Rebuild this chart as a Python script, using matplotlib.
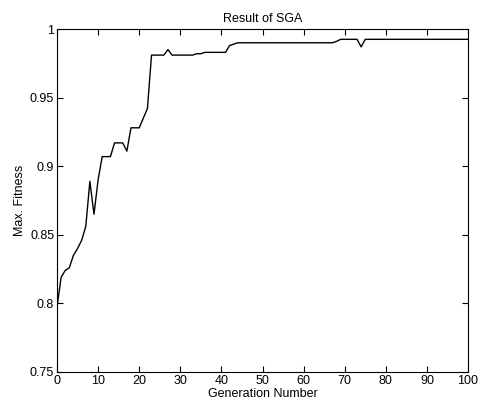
import matplotlib
matplotlib.use("Agg")
import matplotlib.pyplot as plt
import numpy as np

plt.rcParams['font.family'] = ['Liberation Sans', 'DejaVu Sans']

generations = np.arange(0, 101)
max_fitness = [
    0.797, 0.819, 0.824, 0.826, 0.835, 0.840, 0.846, 0.856, 0.889, 0.865,
    0.890, 0.907, 0.907, 0.907, 0.917, 0.917, 0.917, 0.911, 0.928, 0.928,
    0.928, 0.935, 0.942, 0.981, 0.981, 0.981, 0.981, 0.985, 0.981, 0.981,
    0.981, 0.981, 0.981, 0.981, 0.982, 0.982, 0.983, 0.983, 0.983, 0.983,
    0.983, 0.983, 0.988, 0.989, 0.990, 0.990, 0.990, 0.990, 0.990, 0.990,
    0.990, 0.990, 0.990, 0.990, 0.990, 0.990, 0.990, 0.990, 0.990, 0.990,
    0.990, 0.990, 0.990, 0.990, 0.990, 0.990, 0.990, 0.990, 0.991, 0.9925,
    0.9925, 0.9925, 0.9925, 0.9925, 0.987, 0.9925, 0.9925, 0.9925, 0.9925, 0.9925,
    0.9925, 0.9925, 0.9925, 0.9925, 0.9925, 0.9925, 0.9925, 0.9925, 0.9925, 0.9925,
    0.9925, 0.9925, 0.9925, 0.9925, 0.9925, 0.9925, 0.9925, 0.9925, 0.9925, 0.9925,
    0.9925,
]
xticks = [0, 10, 20, 30, 40, 50, 60, 70, 80, 90, 100]
yticks = [0.75, 0.8, 0.85, 0.9, 0.95, 1]
ytick_labels = ['0.75', '0.8', '0.85', '0.9', '0.95', '1']

fig = plt.figure(figsize=(4.85, 4.09), dpi=100)
ax = fig.add_axes([0.1175, 0.0905, 0.8475, 0.8385])
ax.plot(generations, max_fitness, color='black', linewidth=1.0)

ax.set_xlim(0, 100)
ax.set_ylim(0.75, 1)
ax.set_xticks(xticks)
ax.set_yticks(yticks)
ax.set_yticklabels(ytick_labels)
ax.tick_params(direction='in', top=True, right=True, labelsize=9, length=4, width=0.8, pad=2)
for s in ax.spines.values():
    s.set_linewidth(0.8)

ax.set_title('Result of SGA', fontsize=9, pad=5)
ax.set_xlabel('Generation Number', fontsize=9, labelpad=1)
ax.set_ylabel('Max. Fitness', fontsize=9, labelpad=3)

fig.savefig('out.png', dpi=100)
